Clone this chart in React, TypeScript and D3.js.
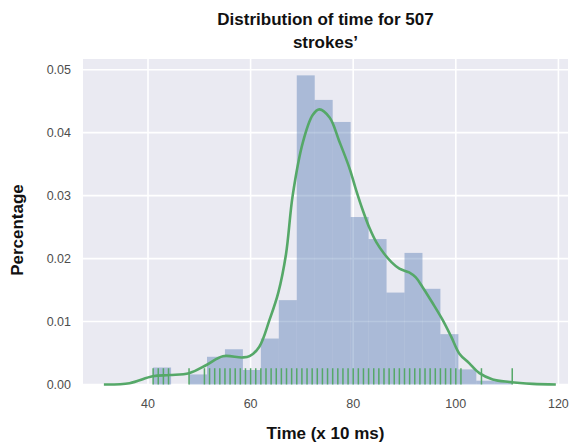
import React from "react";
import * as d3 from "d3";

// ---- data ----
const binEdges = [41, 44.5, 48, 51.5, 55, 58.5, 62, 65.5, 69, 72.5, 76, 79.5, 83, 86.5, 90, 93.5, 97, 100.5, 104, 107.5, 111];
const binDensity = [0.0027, 0, 0.0016, 0.0044, 0.0056, 0.0023, 0.0073, 0.0134, 0.0491, 0.0452, 0.0417, 0.0266, 0.0231, 0.0146, 0.0209, 0.0152, 0.008, 0.0024, 0.0006, 0.0006];

const kdeX = [31.4, 36.4, 40.9, 44.2, 48.0, 51.4, 54.6, 58.3, 59.8, 61.7, 63.7, 65.4, 66.9, 68.2, 70.2, 72.1, 73.4, 75.4, 77.3, 79.3, 80.6, 81.9, 83.2, 84.5, 86.0, 87.5, 89.0, 90.9, 92.2, 93.5, 95.5, 97.4, 99.1, 100.7, 102.6, 104.6, 107.2, 110.4, 115.0, 119.5];
const kdeY = [0.0000, 0.0002, 0.0013, 0.0015, 0.0018, 0.0031, 0.0045, 0.0043, 0.0045, 0.006, 0.0103, 0.0146, 0.0207, 0.0300, 0.0385, 0.0428, 0.0437, 0.0424, 0.0386, 0.0343, 0.0308, 0.0276, 0.0248, 0.0226, 0.0208, 0.0194, 0.0184, 0.0178, 0.0170, 0.0155, 0.0129, 0.0103, 0.0076, 0.0049, 0.0034, 0.0018, 0.0008, 0.0004, 0.0001, 0.0];

const rugValues = [41, 42, 43, 44, 48, 51, 52, 53, 54, 55, 56, 57, 58, 59, 60, 61, 62, 63, 64, 65, 66, 67, 68, 69, 70, 71, 72, 73, 74, 75, 76, 77, 78, 79, 80, 81, 82, 83, 84, 85, 86, 87, 88, 89, 90, 91, 92, 93, 94, 95, 96, 97, 98, 99, 100, 101, 105, 111];

const xTicks = [40, 60, 80, 100, 120];
const yTicks = [0.0, 0.01, 0.02, 0.03, 0.04, 0.05];

const titleLines = ["Distribution of time for 507", "strokes’"];
const xLabel = "Time (x 10 ms)";
const yLabel = "Percentage";

// ---- layout ----
const W = 574;
const H = 445;
const plot = { left: 83, right: 568, top: 59, bottom: 384.5 };

export default function App() {
  const x = d3.scaleLinear().domain([27.33, 121.87]).range([plot.left, plot.right]);
  const y = d3.scaleLinear().domain([0, 0.0517]).range([plot.bottom, plot.top]);

  const kdePts: [number, number][] = kdeX.map((v, i) => [v, kdeY[i]]);
  const line = d3
    .line<[number, number]>()
    .x((d) => x(d[0]))
    .y((d) => Math.min(y(d[1]), plot.bottom))
    .curve(d3.curveCatmullRom.alpha(0.5));

  const rugH = (plot.bottom - plot.top) * 0.05;
  const font = "'Liberation Sans', Arial, Helvetica, sans-serif";
  const cx = (plot.left + plot.right) / 2;

  return (
    <div style={{ position: "fixed", left: 0, top: 0, width: W, height: H, background: "#fff" }}>
      <svg width={W} height={H} style={{ display: "block" }} fontFamily={font}>
        <rect x={0} y={0} width={W} height={H} fill="#ffffff" />
        <rect
          x={plot.left}
          y={plot.top}
          width={plot.right - plot.left}
          height={plot.bottom - plot.top}
          fill="#EAEAF2"
        />
        {/* grid */}
        {xTicks.map((t) => (
          <line key={"gx" + t} x1={x(t)} x2={x(t)} y1={plot.top} y2={plot.bottom} stroke="#fff" strokeWidth={1.6} />
        ))}
        {yTicks.map((t) => (
          <line key={"gy" + t} x1={plot.left} x2={plot.right} y1={y(t)} y2={y(t)} stroke="#fff" strokeWidth={1.6} />
        ))}
        {/* histogram */}
        {binDensity.map((d, i) =>
          d > 0 ? (
            <rect
              key={"b" + i}
              x={x(binEdges[i])}
              y={y(d)}
              width={x(binEdges[i + 1]) - x(binEdges[i])}
              height={y(0) - y(d)}
              fill="#4C72B0"
              fillOpacity={0.4}
            />
          ) : null
        )}
        {/* kde */}
        <path d={line(kdePts) || ""} fill="none" stroke="#55A868" strokeWidth={2.6} strokeLinejoin="round" />
        {/* rug */}
        {rugValues.map((v, i) => (
          <line
            key={"r" + i}
            x1={x(v)}
            x2={x(v)}
            y1={plot.bottom}
            y2={plot.bottom - rugH}
            stroke="#55A868"
            strokeWidth={1.5}
          />
        ))}
        {/* y tick labels */}
        {yTicks.map((t) => (
          <text key={"ty" + t} x={71} y={y(t)} dy="0.35em" textAnchor="end" fontSize={12.5} fill="#4d4d4d">
            {t.toFixed(2)}
          </text>
        ))}
        {/* x tick labels */}
        {xTicks.map((t) => (
          <text key={"tx" + t} x={x(t)} y={408} textAnchor="middle" fontSize={12.5} fill="#4d4d4d">
            {t}
          </text>
        ))}
        {/* title */}
        {titleLines.map((s, i) => (
          <text key={"t" + i} x={cx} y={25 + i * 23} textAnchor="middle" fontSize={17} fontWeight="bold" fill="#111">
            {s}
          </text>
        ))}
        <text x={cx} y={439} textAnchor="middle" fontSize={17} fontWeight="bold" fill="#111">
          {xLabel}
        </text>
        <text
          transform={`translate(23, 230) rotate(-90)`}
          textAnchor="middle"
          fontSize={17}
          fontWeight="bold"
          fill="#111"
        >
          {yLabel}
        </text>
      </svg>
    </div>
  );
}
